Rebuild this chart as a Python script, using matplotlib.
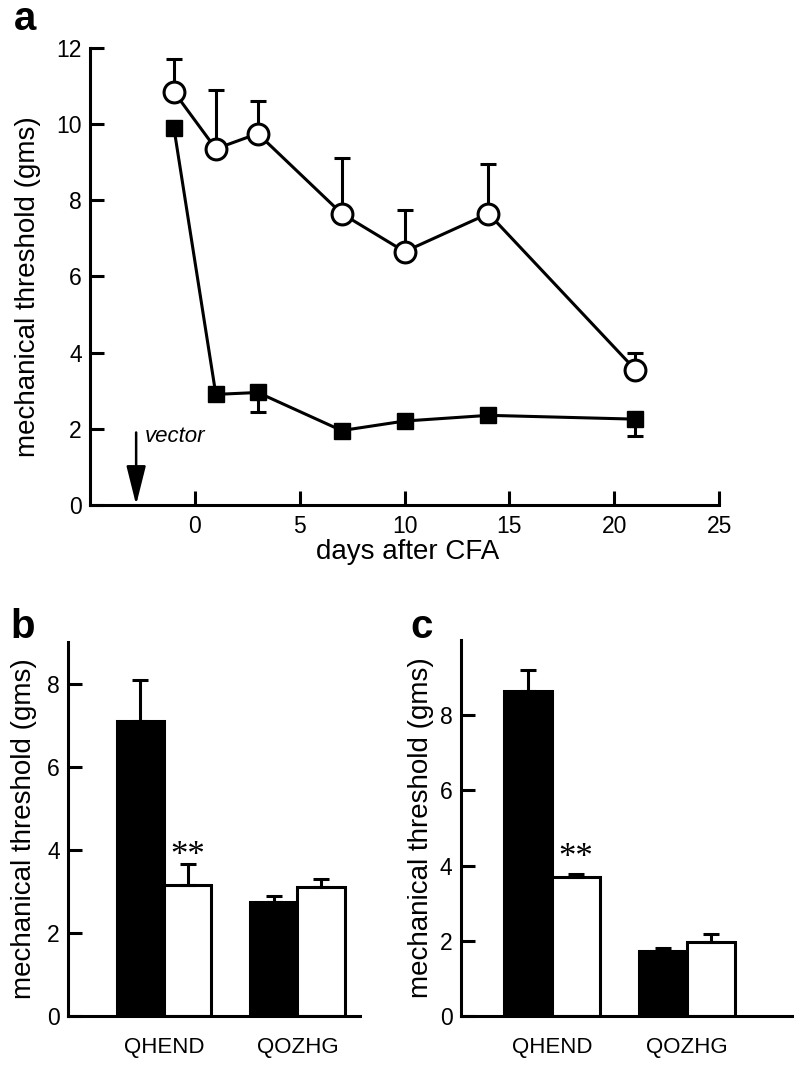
import numpy as np
import matplotlib
matplotlib.use('Agg')
import matplotlib.pyplot as plt

plt.rcParams['font.family'] = ['Liberation Sans', 'DejaVu Sans']

# panel a: time course
days = [-1, 1, 3, 7, 10, 14, 21]
open_mean = [10.85, 9.35, 9.75, 7.65, 6.65, 7.65, 3.55]
open_err = [0.85, 1.55, 0.85, 1.45, 1.1, 1.3, 0.45]
filled_mean = [9.9, 2.9, 2.95, 1.95, 2.2, 2.35, 2.25]
filled_err = [0.0, 0.0, 0.5, 0.0, 0.0, 0.0, 0.45]

# panels b and c: bar charts
groups = ['QHEND', 'QOZHG']
b_black = [7.1, 2.75]
b_black_err = [1.0, 0.15]
b_white = [3.15, 3.1]
b_white_err = [0.5, 0.2]
c_black = [8.65, 1.72]
c_black_err = [0.55, 0.08]
c_white = [3.7, 1.97]
c_white_err = [0.08, 0.22]

lw = 2.2
tick_fs = 16.5
label_fs = 20
fig = plt.figure(figsize=(8, 10.65), dpi=100)

# ---- panel a ----
ax = fig.add_axes([0.1125, 0.526, 0.7865, 0.429])
ax.errorbar(days, filled_mean, yerr=[filled_err, np.zeros(len(days))], fmt='none',
            ecolor='black', elinewidth=lw, capsize=6, capthick=lw, zorder=2)
ax.errorbar(days, open_mean, yerr=[np.zeros(len(days)), open_err], fmt='none',
            ecolor='black', elinewidth=lw, capsize=6, capthick=lw, zorder=2)
ax.plot(days, filled_mean, color='black', lw=lw, marker='s', markersize=11.5,
        markerfacecolor='black', zorder=3)
ax.plot(days, open_mean, color='black', lw=lw, marker='o', markersize=15,
        markerfacecolor='white', markeredgewidth=lw, zorder=4)
ax.annotate('', xy=(-2.8, 0), xytext=(-2.8, 1.9),
            arrowprops=dict(arrowstyle='-|>,head_length=2.4,head_width=0.6',
                            color='black', lw=1.8, shrinkA=0, shrinkB=0))
ax.text(-2.4, 1.8, 'vector', fontsize=16, style='italic', va='center')
ax.set_xlim(-5, 25)
ax.set_ylim(0, 12)
ax.set_xticks([0, 5, 10, 15, 20, 25])
ax.set_yticks([0, 2, 4, 6, 8, 10, 12])
ax.tick_params(axis='x', direction='in', length=10, width=lw, labelsize=tick_fs, pad=7)
ax.tick_params(axis='y', direction='in', length=10, width=lw, labelsize=tick_fs, pad=6)
for s in ['top', 'right']:
    ax.spines[s].set_visible(False)
for s in ['left', 'bottom']:
    ax.spines[s].set_linewidth(lw)
ax.set_xlabel('days after CFA', fontsize=label_fs)
ax.xaxis.set_label_coords(0.505, -0.075)
ax.set_ylabel('mechanical threshold (gms)', fontsize=label_fs)
ax.yaxis.set_label_coords(-0.078, 0.477)
fig.text(0.031, 0.972, 'a', fontsize=29, fontweight='bold', ha='center', va='baseline')


def bar_panel(rect, black, black_err, white, white_err, ylim, xlim, ticks, star_y,
              label_x, letter, letter_x):
    axb = fig.add_axes(rect)
    x = np.arange(1, len(groups) + 1)
    w = 0.355
    axb.bar(x - w / 2, black, width=w, color='black', edgecolor='black', linewidth=lw,
            yerr=[np.zeros(len(x)), black_err], capsize=6,
            error_kw=dict(elinewidth=lw, capthick=lw, ecolor='black'))
    axb.bar(x + w / 2, white, width=w, color='white', edgecolor='black', linewidth=lw,
            yerr=[np.zeros(len(x)), white_err], capsize=6,
            error_kw=dict(elinewidth=lw, capthick=lw, ecolor='black'))
    axb.text(x[0] + w / 2, star_y, '**', fontsize=25, ha='center', va='center',
             family='Liberation Serif')
    axb.set_xlim(*xlim)
    axb.set_ylim(*ylim)
    axb.set_yticks(ticks)
    axb.set_xticks(x)
    axb.set_xticklabels(groups)
    axb.tick_params(axis='x', length=0, labelsize=16, pad=15)
    axb.tick_params(axis='y', direction='in', length=10, width=lw, labelsize=tick_fs, pad=6)
    for s in ['top', 'right']:
        axb.spines[s].set_visible(False)
    for s in ['left', 'bottom']:
        axb.spines[s].set_linewidth(lw)
    axb.set_ylabel('mechanical threshold (gms)', fontsize=label_fs)
    axb.yaxis.set_label_coords(label_x, 0.5)
    fig.text(letter_x, 0.401, letter, fontsize=29, fontweight='bold', ha='center',
             va='baseline')
    return axb


bar_panel([0.085, 0.046, 0.365, 0.351], b_black, b_black_err, b_white, b_white_err,
          (0, 9), (0.28, 2.47), [0, 2, 4, 6, 8], 3.85, -0.106, 'b', 0.0285)
bar_panel([0.576, 0.046, 0.414, 0.353], c_black, c_black_err, c_white, c_white_err,
          (0, 10), (0.326, 2.78), [0, 2, 4, 6, 8], 4.2, -0.08, 'c', 0.527)

fig.savefig('out.png', dpi=100)
